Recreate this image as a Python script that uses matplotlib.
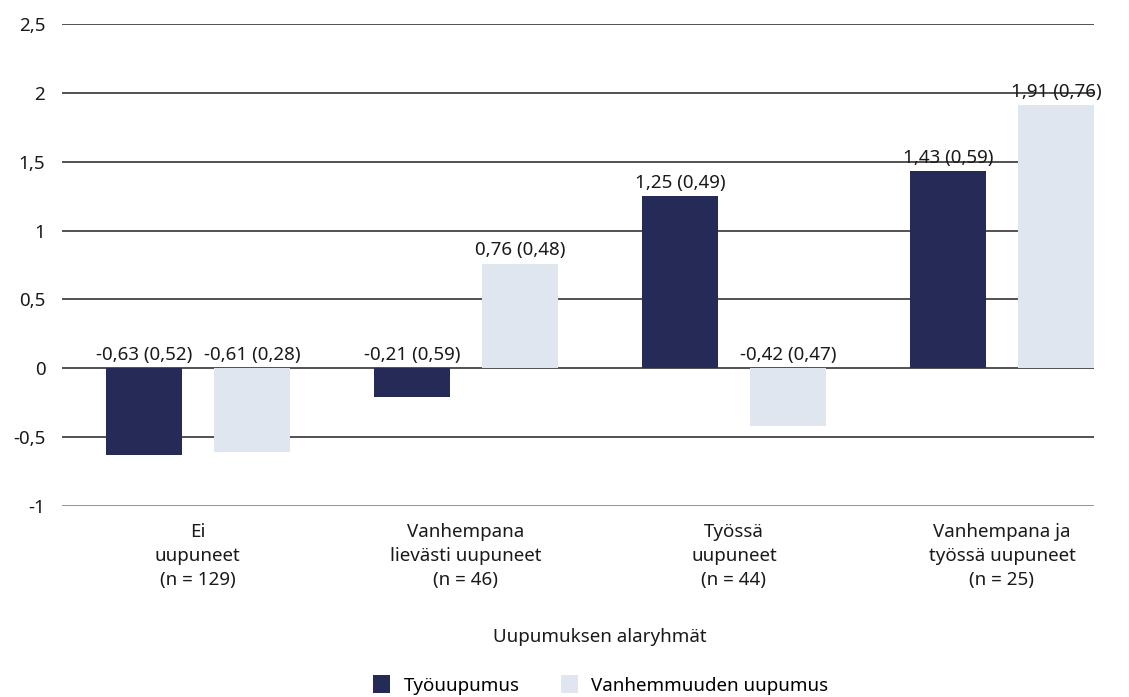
import matplotlib.pyplot as plt
import numpy as np

plt.rcParams['font.family'] = ['Noto Sans', 'DejaVu Sans']

categories = ["Ei\nuupuneet\n(n = 129)",
              "Vanhempana\nlievästi uupuneet\n(n = 46)",
              "Työssä\nuupuneet\n(n = 44)",
              "Vanhempana ja\ntyössä uupuneet\n(n = 25)"]
series_names = ["Työuupumus", "Vanhemmuuden uupumus"]
work_mean = [-0.63, -0.21, 1.25, 1.43]
work_sd = [0.52, 0.59, 0.49, 0.59]
parent_mean = [-0.61, 0.76, -0.42, 1.91]
parent_sd = [0.28, 0.48, 0.47, 0.76]
yticks = [-1, -0.5, 0, 0.5, 1, 1.5, 2, 2.5]

dark = "#262a56"
light = "#dfe6f0"
fs = 13.5


def fi(v):
    return f"{v:.2f}".replace(".", ",")


def tick_fmt(v):
    return f"{v:g}".replace(".", ",")


fig = plt.figure(figsize=(11.29, 6.97), dpi=100)
ax = fig.add_axes([0.0549, 0.274, 0.914, 0.6916])

x = np.arange(len(categories))
w = 0.284
off = 0.2015

b1 = ax.bar(x - off, work_mean, w, color=dark, zorder=3, label=series_names[0])
b2 = ax.bar(x + off, parent_mean, w, color=light, zorder=3, label=series_names[1])

for xs, means, sds in [(x - off, work_mean, work_sd), (x + off, parent_mean, parent_sd)]:
    for xi, m, s in zip(xs, means, sds):
        ax.annotate(f"{fi(m)} ({fi(s)})", (xi, max(m, 0)), xytext=(0, 3),
                    textcoords="offset points", ha="center", va="bottom",
                    fontsize=fs, color="#1a1a1a", zorder=4)

ax.set_ylim(-1, 2.5)
ax.set_xlim(-0.507, 3.343)
ax.set_yticks(yticks)
ax.set_yticklabels([tick_fmt(v) for v in yticks])
for v in yticks:
    ax.axhline(v, color="#222222" if v != -1 else "#777777", lw=1.1, zorder=1)

ax.set_xticks(x)
ax.set_xticklabels(categories, fontsize=fs, linespacing=1.45, color="#1a1a1a")
ax.tick_params(axis="both", length=0, labelsize=fs, labelcolor="#1a1a1a")
ax.tick_params(axis="x", pad=12)
ax.tick_params(axis="y", pad=12)
for sp in ax.spines.values():
    sp.set_visible(False)

fig.text(0.531, 1 - 637 / 697, "Uupumuksen alaryhmät", ha="center", va="center",
         fontsize=fs, color="#1a1a1a")

fig.legend(handles=[b1, b2], loc="center", bbox_to_anchor=(0.532, 1 - 685 / 697),
           ncol=2, frameon=False, fontsize=fs, handlelength=0.9, handleheight=1.1,
           columnspacing=2.2, handletextpad=0.7, borderpad=0.1)

fig.savefig("out.png", dpi=100)
